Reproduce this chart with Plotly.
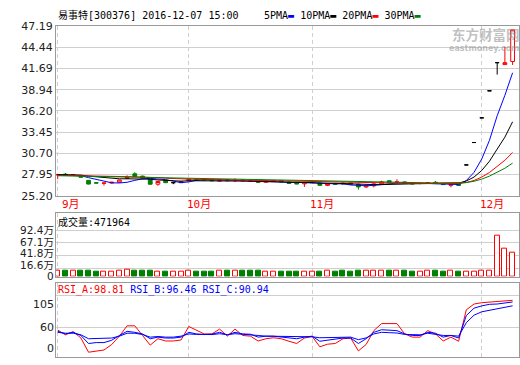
import plotly.graph_objects as go

# ---------------- data ----------------
DATES = [
    "2016-09-06", "2016-09-07", "2016-09-08", "2016-09-09", "2016-09-12", "2016-09-13", "2016-09-14",
    "2016-09-19", "2016-09-20", "2016-09-21", "2016-09-22", "2016-09-23", "2016-09-26", "2016-09-27",
    "2016-09-28", "2016-09-29", "2016-09-30",
    "2016-10-10", "2016-10-11", "2016-10-12", "2016-10-13", "2016-10-14", "2016-10-17", "2016-10-18",
    "2016-10-19", "2016-10-20", "2016-10-21", "2016-10-24", "2016-10-25", "2016-10-26", "2016-10-27",
    "2016-10-28", "2016-10-31",
    "2016-11-01", "2016-11-02", "2016-11-03", "2016-11-04", "2016-11-07", "2016-11-08", "2016-11-09",
    "2016-11-10", "2016-11-11", "2016-11-14", "2016-11-15", "2016-11-16", "2016-11-17", "2016-11-18",
    "2016-11-21", "2016-11-22", "2016-11-23", "2016-11-24", "2016-11-25", "2016-11-28", "2016-11-29",
    "2016-11-30",
    "2016-12-01", "2016-12-02", "2016-12-05", "2016-12-06", "2016-12-07",
]

OPEN = [27.90, 28.00, 27.85, 27.80, 27.20, 26.90, 26.82, 26.85, 26.95, 27.45,
        28.05, 27.75, 27.30, 26.70, 27.20, 26.90, 26.90, 27.15, 27.35, 27.40,
        27.30, 27.10, 27.30, 27.15, 27.25, 27.20, 27.10, 26.95, 27.05, 27.15,
        27.00, 26.85, 26.75, 26.90, 26.85, 26.55, 26.80, 26.85, 26.85, 26.70,
        26.35, 26.50, 26.75, 27.15, 26.90, 27.00, 26.85, 26.80, 26.80, 26.95,
        26.80, 26.55, 26.70, 29.20, 32.10, 35.30, 38.80, 42.45, 42.20, 42.60]
HIGH = [28.00, 28.15, 28.00, 27.85, 27.22, 26.95, 26.88, 27.00, 27.28, 27.85,
        28.25, 27.80, 27.35, 27.10, 27.25, 27.00, 27.10, 27.45, 27.40, 27.45,
        27.35, 27.30, 27.35, 27.45, 27.30, 27.25, 27.15, 27.20, 27.20, 27.20,
        27.05, 26.90, 26.95, 27.00, 26.90, 26.80, 26.85, 26.90, 26.90, 26.75,
        26.60, 26.80, 27.15, 27.20, 27.35, 27.05, 26.90, 26.85, 26.95, 27.10,
        26.85, 26.75, 26.75, 29.20, 32.10, 35.30, 38.80, 42.45, 44.50, 46.70]
LOW = [27.36, 27.85, 27.80, 27.55, 26.68, 26.80, 26.52, 26.80, 26.90, 27.36,
       27.65, 27.45, 26.65, 26.50, 26.85, 26.70, 26.85, 27.10, 27.20, 27.20,
       27.10, 27.05, 27.10, 27.00, 27.10, 27.05, 26.90, 26.90, 27.00, 26.95,
       26.75, 26.70, 26.35, 26.85, 26.50, 26.45, 26.65, 26.70, 26.65, 26.00,
       26.20, 26.30, 26.70, 26.90, 26.75, 26.80, 26.70, 26.70, 26.75, 26.75,
       26.60, 26.30, 26.50, 29.20, 32.10, 35.30, 38.80, 40.90, 42.15, 42.15]
CLOSE = [27.95, 27.90, 27.95, 27.60, 26.72, 26.85, 26.86, 26.95, 27.24, 27.55,
         27.70, 27.50, 26.70, 27.05, 26.90, 26.90, 27.05, 27.35, 27.25, 27.25,
         27.15, 27.25, 27.15, 27.20, 27.15, 27.10, 26.95, 27.10, 27.15, 27.00,
         26.80, 26.75, 26.90, 26.95, 26.55, 26.75, 26.70, 26.75, 26.70, 26.35,
         26.50, 26.75, 27.00, 26.95, 27.00, 26.85, 26.75, 26.80, 26.90, 26.80,
         26.65, 26.70, 26.55, 29.20, 32.10, 35.30, 38.80, 42.45, 42.45, 46.70]
VOLUME = [110000, 109500, 110200, 109800, 110000, 90000, 90500, 89800, 109600, 128000,
          110000, 109400, 110300, 90000, 89600, 90200, 89900, 110000, 90000, 89500,
          90300, 109700, 110000, 109500, 110200, 109800, 110000, 90000, 89700, 97000,
          97500, 96800, 90200, 89800, 97200, 115000, 97000, 122000, 97300, 122500,
          110000, 109600, 110200, 122000, 109800, 122300, 97000, 90000, 109900, 122200,
          97100, 109700, 97400, 90000, 89600, 110000, 109800, 821000, 552000, 471964]

MA5 = [27.90, 27.88, 27.85, 27.80, 27.55, 27.30, 27.05, 26.88, 26.86, 26.95,
       27.20, 27.40, 27.45, 27.38, 27.30, 27.10, 26.90, 27.00, 27.20, 27.28,
       27.28, 27.25, 27.25, 27.20, 27.15, 27.15, 27.10, 27.05, 27.00, 27.00,
       26.95, 26.95, 26.90, 26.90, 26.85, 26.80, 26.75, 26.75, 26.60, 26.55,
       26.50, 26.55, 26.65, 26.80, 26.85, 26.85, 26.85, 26.80, 26.80, 26.75,
       26.75, 26.70, 26.65, 27.18, 28.24, 29.97, 32.39, 35.57, 38.22, 41.14]
MA10 = [27.95, 27.93, 27.90, 27.88, 27.75, 27.65, 27.55, 27.45, 27.40, 27.40,
        27.40, 27.40, 27.35, 27.25, 27.20, 27.15, 27.10, 27.15, 27.15, 27.15,
        27.15, 27.15, 27.15, 27.15, 27.10, 27.10, 27.05, 27.05, 27.00, 27.00,
        26.95, 26.95, 26.90, 26.90, 26.85, 26.85, 26.85, 26.80, 26.75, 26.70,
        26.65, 26.65, 26.65, 26.70, 26.70, 26.72, 26.75, 26.78, 26.80, 26.82,
        26.82, 26.82, 26.85, 27.12, 27.63, 28.48, 29.68, 31.25, 32.80, 34.79]
MA20 = [27.85, 27.84, 27.83, 27.82, 27.80, 27.78, 27.75, 27.72, 27.70, 27.68,
        27.66, 27.65, 27.62, 27.55, 27.48, 27.42, 27.38, 27.36, 27.34, 27.32,
        27.30, 27.30, 27.28, 27.26, 27.25, 27.22, 27.20, 27.15, 27.12, 27.10,
        27.06, 27.04, 27.02, 27.00, 26.97, 26.95, 26.94, 26.93, 26.91, 26.89,
        26.87, 26.86, 26.85, 26.84, 26.83, 26.82, 26.81, 26.80, 26.80, 26.80,
        26.80, 26.79, 26.79, 26.91, 27.19, 27.62, 28.22, 29.01, 29.80, 30.81]
MA30 = [27.80, 27.78, 27.76, 27.74, 27.72, 27.70, 27.68, 27.67, 27.66, 27.65,
        27.64, 27.63, 27.62, 27.60, 27.58, 27.56, 27.54, 27.50, 27.48, 27.45,
        27.43, 27.40, 27.38, 27.35, 27.33, 27.30, 27.28, 27.25, 27.22, 27.20,
        27.18, 27.15, 27.12, 27.10, 27.08, 27.06, 27.05, 27.03, 27.02, 27.00,
        26.98, 26.97, 26.95, 26.95, 26.93, 26.92, 26.90, 26.90, 26.88, 26.87,
        26.86, 26.85, 26.85, 26.92, 27.08, 27.36, 27.75, 28.26, 28.77, 29.43]

RSI_A = [56.3, 49.4, 54.0, 45.0, 24.5, 26.4, 27.7, 35.5, 47.5, 62.3,
         62.3, 48.5, 34.7, 43.8, 40.6, 40.6, 42.0, 61.3, 55.4, 50.7,
         50.7, 57.6, 47.5, 57.6, 48.5, 47.5, 40.6, 43.8, 45.2, 43.8,
         40.2, 37.0, 44.8, 47.1, 32.3, 36.0, 37.0, 43.8, 44.8, 26.4,
         35.6, 55.4, 65.5, 65.5, 65.5, 50.7, 46.1, 46.1, 55.4, 50.7,
         40.6, 46.1, 40.2, 85.3, 93.5, 95.4, 96.3, 96.8, 97.2, 98.81]
RSI_B = [54.4, 50.7, 53.0, 48.5, 37.0, 38.3, 38.3, 41.6, 48.5, 54.4,
         53.0, 50.7, 43.8, 46.1, 44.8, 44.8, 46.1, 53.0, 50.7, 49.8,
         50.3, 53.0, 49.4, 53.0, 50.7, 50.3, 46.1, 47.5, 47.5, 46.1,
         44.8, 43.8, 46.1, 47.5, 40.2, 41.6, 42.5, 44.8, 44.8, 37.0,
         43.8, 53.0, 56.7, 56.3, 55.4, 50.7, 48.5, 48.5, 53.0, 51.7,
         46.1, 48.5, 44.8, 77.0, 87.6, 90.8, 93.1, 93.5, 94.5, 96.46]
RSI_C = [53.0, 51.7, 51.7, 49.5, 43.8, 43.8, 43.8, 44.8, 47.5, 51.7,
         51.7, 49.8, 46.1, 47.0, 46.1, 46.1, 47.5, 50.7, 50.0, 49.5,
         49.8, 51.0, 49.5, 51.0, 50.3, 50.0, 48.5, 47.5, 47.5, 47.5,
         47.0, 46.6, 46.6, 46.6, 45.2, 45.6, 46.1, 46.1, 46.1, 42.5,
         45.0, 50.7, 53.0, 52.5, 52.0, 50.0, 49.4, 49.4, 51.7, 50.5,
         48.5, 48.5, 47.5, 66.8, 77.6, 82.4, 84.4, 86.2, 88.5, 90.94]

PRICE_TICKS = [25.20, 27.95, 30.70, 33.45, 36.20, 38.94, 41.69, 44.44, 47.19]
VOL_TICKS = [0, 166000, 418000, 671000, 924000]
VOL_TICK_TEXT = ["0", "16.6万", "41.8万", "67.1万", "92.4万"]
RSI_GRID = [60, 105]
RSI_LABELS = ["105", "60", "0"]
STOCK_NAME = "易事特"
STOCK_CODE = "300376"
TIMESTAMP = "2016-12-07 15:00"
MA_NAMES = ["5PMA", "10PMA", "20PMA", "30PMA"]

# ---------------- styling ----------------
W, H = 520, 365
ML, MR = 56, 1
RED, GREEN, BLUE, BLACK = "#ff0000", "#008000", "#0000ff", "#000000"
FRAME = "#9a9a9a"
GRID = "#cfcfcf"
MONO = "DejaVu Sans Mono, DejaVu Sans, Noto Sans CJK SC"
SANS = "DejaVu Sans, Noto Sans CJK SC"
LABEL_FONT = dict(family=SANS, size=11, color="#222222")
WATERMARK = "rgba(140,140,140,0.55)"


def px_x(px):
    return (px - ML) / (W - ML - MR)


def px_y(py):
    return 1 - py / H


N = len(DATES)
month_starts = [i for i in range(N) if i == 0 or DATES[i][5:7] != DATES[i - 1][5:7]]

fig = go.Figure()

# candlesticks: red hollow (up), green filled (down), black (open == close)
groups = [
    ([i for i in range(N) if CLOSE[i] > OPEN[i]], RED, "#ffffff"),
    ([i for i in range(N) if CLOSE[i] < OPEN[i]], GREEN, GREEN),
    ([i for i in range(N) if CLOSE[i] == OPEN[i]], BLACK, BLACK),
]
for idx, col, fill in groups:
    style = dict(line=dict(color=col, width=1), fillcolor=fill)
    fig.add_trace(go.Candlestick(
        x=[DATES[i] for i in idx], open=[OPEN[i] for i in idx], high=[HIGH[i] for i in idx],
        low=[LOW[i] for i in idx], close=[CLOSE[i] for i in idx],
        increasing=style, decreasing=style, whiskerwidth=0,
        xaxis="x", yaxis="y", showlegend=False))

for vals, col in [(MA5, BLUE), (MA10, BLACK), (MA20, RED), (MA30, GREEN)]:
    fig.add_trace(go.Scatter(x=DATES, y=vals, mode="lines", line=dict(color=col, width=1),
                             xaxis="x", yaxis="y", showlegend=False))

# volume bars
up_day = [CLOSE[i] >= OPEN[i] for i in range(N)]
fig.add_trace(go.Bar(
    x=DATES, y=VOLUME, width=0.65,
    marker=dict(color=["#ffffff" if u else GREEN for u in up_day],
                line=dict(color=[RED if u else GREEN for u in up_day], width=1)),
    xaxis="x2", yaxis="y2", showlegend=False))

# RSI
for vals, col in [(RSI_A, RED), (RSI_B, BLUE), (RSI_C, BLUE)]:
    fig.add_trace(go.Scatter(x=DATES, y=vals, mode="lines", line=dict(color=col, width=1),
                             xaxis="x3", yaxis="y3", showlegend=False))

# ---------------- axes ----------------
xrange = [-0.22, N - 1 + 0.83]
xcommon = dict(type="category", categoryorder="array", categoryarray=DATES, range=xrange,
               showticklabels=False, ticks="", tickvals=[DATES[i] for i in month_starts],
               showgrid=True, gridcolor=GRID, griddash="4px,3px", gridwidth=1,
               showline=True, mirror=True, linecolor=FRAME, linewidth=1, zeroline=False,
               rangeslider=dict(visible=False), fixedrange=True)
ycommon = dict(showline=True, mirror=True, linecolor=FRAME, linewidth=1, zeroline=False,
               gridcolor=GRID, gridwidth=1, ticks="", tickfont=LABEL_FONT, fixedrange=True)

dom_main = [px_y(196.8), px_y(20.8)]
dom_vol = [px_y(280.5), px_y(214.3)]
dom_rsi = [px_y(364.0), px_y(287.7)]

vol_scale = 0.52          # px per 1万
vol_top = (280.5 - 214.3) / vol_scale * 10000
rsi_scale = 0.7244        # px per RSI point
rsi_top = 105 + (300.7 - 287.7) / rsi_scale
rsi_bot = rsi_top - (364.0 - 287.7) / rsi_scale

fig.update_layout(
    width=W, height=H, margin=dict(l=ML, r=MR, t=0, b=0),
    paper_bgcolor="#ffffff", plot_bgcolor="#ffffff", showlegend=False,
    xaxis=dict(xcommon, anchor="y"),
    xaxis2=dict(xcommon, anchor="y2"),
    xaxis3=dict(xcommon, anchor="y3"),
    yaxis=dict(ycommon, domain=dom_main, anchor="x", range=[PRICE_TICKS[0], PRICE_TICKS[-1]],
               tickvals=PRICE_TICKS, ticktext=[f"{v:.2f}" for v in PRICE_TICKS]),
    yaxis2=dict(ycommon, domain=dom_vol, anchor="x2", range=[0, vol_top],
                tickvals=VOL_TICKS, showticklabels=False),
    yaxis3=dict(ycommon, domain=dom_rsi, anchor="x3", range=[rsi_bot, rsi_top],
                tickvals=RSI_GRID, showticklabels=False),
    bargap=0,
)

ann = []
# title
ann.append(dict(text=f"{STOCK_NAME}[{STOCK_CODE}] {TIMESTAMP}", x=px_x(56), y=px_y(9.5),
                xref="paper", yref="paper", xanchor="left", yanchor="middle", showarrow=False,
                font=dict(family=MONO, size=10, color="#000000")))
# MA legend
ma_cols = [BLUE, BLACK, RED, GREEN]
legend_txt = " ".join(f"{n}<span style='color:{c}'>▬</span>" for n, c in zip(MA_NAMES, ma_cols))
ann.append(dict(text=legend_txt, x=px_x(262), y=px_y(9.5), xref="paper", yref="paper",
                xanchor="left", yanchor="middle", showarrow=False,
                font=dict(family=MONO, size=10, color="#000000")))
# watermark
ann.append(dict(text="<b>东方财富网</b>", x=px_x(520), y=px_y(29.5), xref="paper", yref="paper",
                xanchor="right", yanchor="middle", showarrow=False, borderpad=0, borderwidth=0,
                font=dict(family="Noto Sans CJK SC", size=13.5, color=WATERMARK)))
ann.append(dict(text="<b>eastmoney.com</b>", x=px_x(519), y=px_y(44), xref="paper", yref="paper",
                xanchor="right", yanchor="middle", showarrow=False, borderpad=0, borderwidth=0,
                font=dict(family="DejaVu Sans", size=8, color=WATERMARK)))
# month labels
for i in month_starts:
    ann.append(dict(text=f"{int(DATES[i][5:7])}月", x=max(i - 0.5, xrange[0] + 0.5), y=px_y(206),
                    xref="x", yref="paper", xanchor="left", yanchor="middle", showarrow=False,
                    font=dict(family=MONO, size=11, color=RED)))
# volume header and axis labels
ann.append(dict(text=f"成交量:{VOLUME[-1]}", x=px_x(56), y=px_y(223.5), xref="paper", yref="paper",
                xanchor="left", yanchor="middle", showarrow=False,
                font=dict(family=MONO, size=10, color="#000000")))
for lab, py in zip(VOL_TICK_TEXT, [280.0, 268.3, 256.3, 244.3, 232.3]):
    ann.append(dict(text=lab, x=px_x(53.5), y=px_y(py), xref="paper", yref="paper",
                    xanchor="right", yanchor="middle", showarrow=False, borderpad=0, borderwidth=0,
                    font=dict(LABEL_FONT, size=10.5)))
# RSI header and axis labels
rsi_txt = (f"<span style='color:{RED}'>RSI_A:{RSI_A[-1]:.2f}</span> "
           f"<span style='color:{BLUE}'>RSI_B:{RSI_B[-1]:.2f}</span> "
           f"<span style='color:{BLUE}'>RSI_C:{RSI_C[-1]:.2f}</span>")
ann.append(dict(text=rsi_txt, x=px_x(56), y=px_y(294.5), xref="paper", yref="paper",
                xanchor="left", yanchor="middle", showarrow=False,
                font=dict(family=MONO, size=10, color="#000000")))
for lab, py in zip(RSI_LABELS, [309.3, 333.3, 355.0]):
    ann.append(dict(text=lab, x=px_x(53.5), y=px_y(py), xref="paper", yref="paper",
                    xanchor="right", yanchor="middle", showarrow=False, borderpad=0, borderwidth=0,
                    font=LABEL_FONT))
fig.update_layout(annotations=ann)

fig.write_html("out.html")
